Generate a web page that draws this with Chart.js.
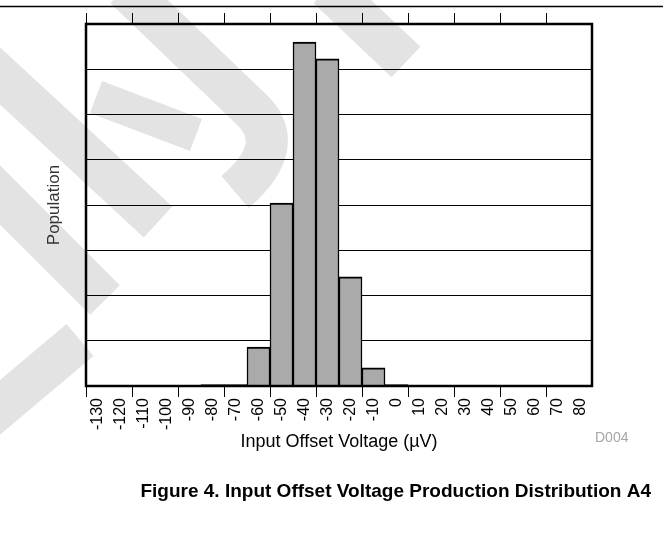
<!DOCTYPE html>
<html>
<head>
<meta charset="utf-8">
<title>Input Offset Voltage Production Distribution</title>
<script src="https://cdn.jsdelivr.net/npm/chart.js@4.4.1/dist/chart.umd.min.js"></script>
<style>
  html, body { margin: 0; padding: 0; background: #fff; }
  #wrap { width: 663px; height: 538px; }
</style>
</head>
<body>
<div id="wrap"><canvas id="histChart" width="663" height="538"></canvas></div>
<script>
// bins of input offset voltage (uV)
const binLabels = ['-130', '-120', '-110', '-100', '-90', '-80', '-70', '-60', '-50', '-40', '-30',
    '-20', '-10', '0', '10', '20', '30', '40', '50', '60', '70', '80'];
// population per bin (grid units x100)
const population = [0, 0, 0, 0, 0, 3, 3, 86, 404, 760, 723, 241, 40, 3, 0, 0, 0, 0, 0, 0, 0, 0];
const popMax = 800;
const popStep = 100;

const xTitle = 'Input Offset Voltage (\u00B5V)';
const yTitle = 'Population';
const caption = 'Figure 4. Input Offset Voltage Production Distribution A4';
const figId = 'D004';

// every second bin boundary gets a tick mark
function tickColor(ctx) {
    return ctx.index % 2 === 0 ? '#000' : 'rgba(0,0,0,0)';
}

// light grey watermark behind the chart
const watermark = {
    id: 'watermark',
    beforeDraw(chart) {
        const c = chart.ctx;
        c.save();
        c.strokeStyle = '#e3e3e3';
        c.lineCap = 'butt';
        c.lineWidth = 42;
        c.beginPath();
        c.moveTo(125, -12);
        c.lineTo(250, 108);
        c.quadraticCurveTo(290, 145, 235, 192);
        c.stroke();
        c.beginPath();
        c.moveTo(328, -12);
        c.lineTo(406, 62);
        c.stroke();
        c.beginPath();
        c.moveTo(-15, 62);
        c.lineTo(158, 222);
        c.stroke();
        c.beginPath();
        c.moveTo(-15, 180);
        c.lineTo(105, 300);
        c.stroke();
        c.beginPath();
        c.moveTo(-15, 420);
        c.lineTo(80, 340);
        c.stroke();
        c.lineWidth = 34;
        c.beginPath();
        c.moveTo(96, 97);
        c.lineTo(196, 135);
        c.stroke();
        c.restore();
    }
};

// frame, page rule and figure caption
const decorations = {
    id: 'decorations',
    afterDatasetsDraw(chart) {
        const c = chart.ctx;
        const a = chart.chartArea;
        c.save();
        c.strokeStyle = '#000';
        c.lineWidth = 2.5;
        c.strokeRect(a.left, a.top, a.right - a.left, a.bottom - a.top);
        c.restore();
    },
    afterDraw(chart) {
        const c = chart.ctx;
        c.save();
        c.strokeStyle = '#000';
        c.lineWidth = 1.5;
        c.beginPath();
        c.moveTo(0, 6.5);
        c.lineTo(663, 6.5);
        c.stroke();

        c.fillStyle = '#a6a6a6';
        c.font = '14px "Liberation Sans", Arial, sans-serif';
        c.textAlign = 'left';
        c.textBaseline = 'middle';
        c.fillText(figId, 595, 438);

        c.fillStyle = '#000';
        c.font = 'bold 19px "Liberation Sans", Arial, sans-serif';
        c.textAlign = 'right';
        c.fillText(caption, 651, 492);
        c.restore();
    }
};

const ctx = document.getElementById('histChart').getContext('2d');
const histChart = new Chart(ctx, {
    type: 'bar',
    data: {
        labels: binLabels,
        datasets: [{
            label: yTitle,
            data: population,
            backgroundColor: '#aaaaaa',
            borderColor: '#000',
            borderWidth: { top: 2, left: 1.5, right: 1.5, bottom: 0 },
            borderSkipped: false,
            categoryPercentage: 1.0,
            barPercentage: 1.0
        }]
    },
    options: {
        responsive: false,
        animation: false,
        devicePixelRatio: 1,
        layout: { padding: { top: 13, right: 71, bottom: 0, left: 0 } },
        plugins: {
            legend: { display: false },
            tooltip: { enabled: false }
        },
        scales: {
            x: {
                type: 'category',
                position: 'bottom',
                grid: {
                    offset: true,
                    drawOnChartArea: false,
                    drawTicks: true,
                    tickLength: 11,
                    color: tickColor,
                    lineWidth: 1
                },
                border: { display: false },
                ticks: {
                    autoSkip: false,
                    minRotation: 90,
                    maxRotation: 90,
                    padding: 1,
                    color: '#000',
                    font: { family: '"Liberation Sans", Arial, sans-serif', size: 16 }
                },
                title: {
                    display: true,
                    text: xTitle,
                    color: '#000',
                    font: { family: '"Liberation Sans", Arial, sans-serif', size: 18 },
                    padding: { top: 0, bottom: 85 }
                },
                afterFit(scale) { scale.height = 152; }
            },
            x2: {
                type: 'category',
                position: 'top',
                labels: binLabels,
                grid: {
                    offset: true,
                    drawOnChartArea: false,
                    drawTicks: true,
                    tickLength: 11,
                    color: tickColor,
                    lineWidth: 1
                },
                border: { display: false },
                ticks: { display: false },
                afterFit(scale) { scale.height = 11; }
            },
            y: {
                min: 0,
                max: popMax,
                ticks: { display: false, stepSize: popStep },
                grid: { color: '#000', lineWidth: 1, drawTicks: false },
                border: { display: false },
                title: {
                    display: true,
                    text: yTitle,
                    color: '#333',
                    font: { family: '"Liberation Sans", Arial, sans-serif', size: 17 },
                    padding: { top: 44, bottom: 0 }
                },
                afterFit(scale) { scale.width = 86; }
            }
        }
    },
    plugins: [watermark, decorations]
});
</script>
</body>
</html>
